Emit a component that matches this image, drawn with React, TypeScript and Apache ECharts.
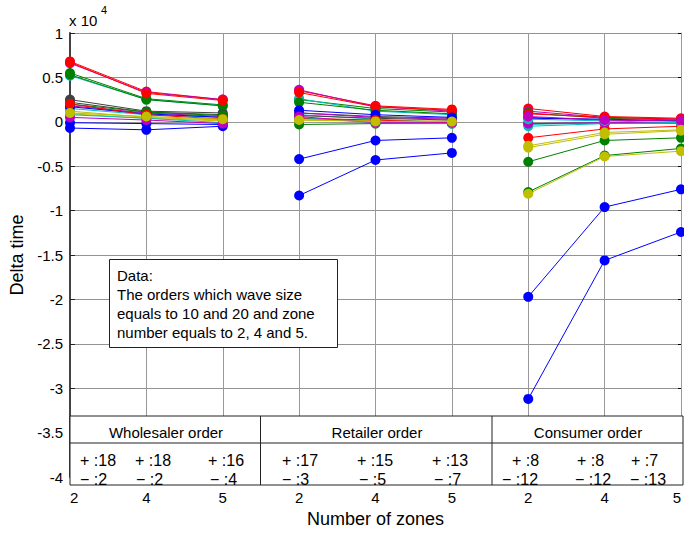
import React, { useEffect, useRef } from "react";
import * as echarts from "echarts";

// Zone numbers shown under each group of points (x = 1..9)
const zoneLabels = ["2", "4", "5", "2", "4", "5", "2", "4", "5"];
const orderTypes = ["Wholesaler order", "Retailer order", "Consumer order"];

// Delta time (x 10^4) per order for zone numbers 2, 4, 5
const wholesaler: number[][] = [
  [-0.07, -0.09, -0.05],
  [0.55, 0.26, 0.19],
  [0.68, 0.34, 0.25],
  [0.52, 0.25, 0.18],
  [0.66, 0.33, 0.25],
  [0.12, 0.05, 0.02],
  [0.25, 0.12, 0.1],
  [-0.01, -0.02, -0.03],
  [0.53, 0.25, 0.18],
  [0.67, 0.32, 0.24],
  [0.15, 0.08, 0.05],
  [0.18, 0.1, 0.06],
  [0.09, 0.04, 0.01],
  [0.22, 0.11, 0.08],
  [0.17, 0.09, 0.05],
  [0.2, 0.11, 0.07],
  [0.2, 0.08, 0.03],
  [0.08, 0.04, -0.01],
  [0.05, 0.02, -0.02],
  [0.1, 0.06, 0.03],
];

const retailer: number[][] = [
  [-0.83, -0.43, -0.35],
  [0.25, 0.15, 0.11],
  [0.35, 0.18, 0.14],
  [0.26, 0.12, 0.08],
  [0.36, 0.17, 0.12],
  [0.03, 0.01, 0.01],
  [0.1, 0.06, 0.04],
  [-0.42, -0.21, -0.18],
  [0.22, 0.13, 0.09],
  [0.33, 0.17, 0.13],
  [0.08, 0.03, -0.01],
  [0.1, 0.05, 0.03],
  [0.02, 0.01, 0.005],
  [0.07, 0.04, 0.02],
  [0.13, 0.08, 0.05],
  [-0.03, -0.02, -0.02],
  [0.04, 0.02, -0.01],
  [0.05, -0.01, -0.02],
  [0.06, -0.01, -0.01],
  [0.02, 0.005, 0.003],
];

const consumer: number[][] = [
  [-3.12, -1.56, -1.24],
  [-0.79, -0.38, -0.3],
  [0.15, 0.06, 0.04],
  [-0.05, -0.02, -0.01],
  [0.12, 0.05, 0.03],
  [-0.81, -0.39, -0.33],
  [-0.02, -0.01, -0.01],
  [-1.97, -0.96, -0.76],
  [-0.45, -0.21, -0.18],
  [-0.18, -0.08, -0.05],
  [-0.03, -0.01, -0.02],
  [-0.02, -0.01, -0.01],
  [-0.29, -0.14, -0.1],
  [0.05, 0.02, 0.01],
  [0.04, 0.03, 0.01],
  [0.1, 0.04, 0.02],
  [0.09, 0.05, 0.03],
  [0.03, 0.01, -0.01],
  [0.06, 0.02, 0.01],
  [-0.27, -0.12, -0.09],
];

// Count of positive / negative deltas per zone column
const plusCounts = [18, 18, 16, 17, 15, 13, 8, 8, 7];
const minusCounts = [2, 2, 4, 3, 5, 7, 12, 12, 13];

const colorOrder = ["#0000ff", "#008000", "#ff0000", "#00bfbf", "#bf00bf", "#bfbf00", "#404040"];

const FONT = "'Liberation Sans', Arial, sans-serif";

// Pixel layout of the plot frame and the count table
const G_LEFT = 70;
const G_TOP = 33;
const G_RIGHT = 683;
const G_BOTTOM = 485;
const TABLE_TOP = 416;
const TABLE_MID = 443;
const TABLE_DIVIDERS = [260.5, 492];
const HEADER_X = [166, 377, 588];
const PLUS_X = [80, 135, 208, 282, 357, 432, 512, 577, 631];
const MINUS_X = [80, 136, 210, 282, 359, 434, 502, 575, 630];

export default function App() {
  const ref = useRef<HTMLDivElement>(null);

  useEffect(() => {
    if (!ref.current) return;
    const chart = echarts.init(ref.current, undefined, { renderer: "svg" });

    const groups = [wholesaler, retailer, consumer];
    const series: any[] = [];
    groups.forEach((rows, g) => {
      rows.forEach((vals, i) => {
        const color = colorOrder[i % colorOrder.length];
        series.push({
          type: "line",
          data: vals.map((v, k) => [g * 3 + k + 1, v]),
          symbol: "circle",
          symbolSize: 10,
          showSymbol: true,
          lineStyle: { color, width: 1 },
          itemStyle: { color },
          emphasis: { disabled: true },
          silent: true,
        });
      });
    });

    const graphics: any[] = [
      // x 10^4 exponent note
      { type: "text", x: 69, y: 20, style: { text: "x 10", font: `15px ${FONT}`, fill: "#000", verticalAlign: "middle" } },
      { type: "text", x: 101, y: 10, style: { text: "4", font: `11px ${FONT}`, fill: "#000", verticalAlign: "middle" } },
      // note box
      {
        type: "rect",
        z: 50,
        shape: { x: 109.5, y: 259.5, width: 228, height: 88 },
        style: { fill: "#fff", stroke: "#222", lineWidth: 1 },
      },
      {
        type: "text",
        z: 51,
        x: 117,
        y: 266,
        style: {
          text: "Data:\nThe orders which wave size\nequals to 10 and 20 and zone\nnumber equals to 2, 4 and 5.",
          font: `15px ${FONT}`,
          lineHeight: 19,
          fill: "#000",
        },
      },
      // count table
      {
        type: "rect",
        z: 50,
        shape: { x: G_LEFT, y: TABLE_TOP, width: G_RIGHT - G_LEFT, height: G_BOTTOM - TABLE_TOP },
        style: { fill: "#fff", stroke: "#222", lineWidth: 1 },
      },
      {
        type: "line",
        z: 51,
        shape: { x1: G_LEFT, y1: TABLE_MID, x2: G_RIGHT, y2: TABLE_MID },
        style: { stroke: "#222", lineWidth: 1 },
      },
      ...TABLE_DIVIDERS.map((x) => ({
        type: "line",
        z: 51,
        shape: { x1: x, y1: TABLE_TOP, x2: x, y2: G_BOTTOM },
        style: { stroke: "#222", lineWidth: 1 },
      })),
      ...orderTypes.map((t, i) => ({
        type: "text",
        z: 52,
        x: HEADER_X[i],
        y: 432,
        style: { text: t, font: `15px ${FONT}`, fill: "#000", align: "center", verticalAlign: "middle" },
      })),
      ...plusCounts.map((c, i) => ({
        type: "text",
        z: 52,
        x: PLUS_X[i],
        y: 460,
        style: { text: `+ :${c}`, font: `16px ${FONT}`, fill: "#000", verticalAlign: "middle" },
      })),
      ...minusCounts.map((c, i) => ({
        type: "text",
        z: 52,
        x: MINUS_X[i],
        y: 479,
        style: { text: `\u2212 :${c}`, font: `16px ${FONT}`, fill: "#000", verticalAlign: "middle" },
      })),
    ];

    chart.setOption({
      animation: false,
      backgroundColor: "#fff",
      textStyle: { fontFamily: FONT },
      grid: {
        left: G_LEFT,
        top: G_TOP,
        width: G_RIGHT - G_LEFT,
        height: G_BOTTOM - G_TOP,
        containLabel: false,
      },
      xAxis: [
        {
          type: "value",
          min: 1,
          max: 9,
          interval: 1,
          name: "Number of zones",
          nameLocation: "middle",
          nameGap: 28,
          nameTextStyle: { fontSize: 18, color: "#000", fontFamily: FONT },
          axisLine: { show: true, lineStyle: { color: "#222", width: 1 } },
          axisTick: { show: false },
          axisLabel: {
            color: "#000",
            fontSize: 15,
            margin: 13,
            fontFamily: FONT,
            alignMinLabel: "left",
            alignMaxLabel: "right",
            formatter: (v: number) => zoneLabels[Math.round(v) - 1] ?? "",
          },
          splitLine: { show: true, lineStyle: { color: "#999", width: 1 } },
        },
        {
          type: "value",
          position: "top",
          min: 1,
          max: 9,
          interval: 1,
          axisLine: { show: true, lineStyle: { color: "#999", width: 1 } },
          axisTick: { show: true, inside: true, length: 3, lineStyle: { color: "#000", width: 2 } },
          axisLabel: { show: false },
          splitLine: { show: false },
        },
      ],
      yAxis: [
        {
          type: "value",
          min: -4,
          max: 1,
          interval: 0.5,
          name: "Delta time",
          nameLocation: "middle",
          nameGap: 41,
          nameTextStyle: { fontSize: 18, color: "#000", fontFamily: FONT },
          axisLine: { show: true, lineStyle: { color: "#444", width: 2 } },
          axisTick: { show: true, inside: true, length: 5, lineStyle: { color: "#222", width: 1 } },
          axisLabel: { color: "#000", fontSize: 15, margin: 7, fontFamily: FONT },
          splitLine: { show: true, lineStyle: { color: "#939393", width: 1 } },
        },
        {
          type: "value",
          position: "right",
          min: -4,
          max: 1,
          interval: 0.5,
          axisLine: { show: true, lineStyle: { color: "#999", width: 1 } },
          axisTick: { show: true, inside: true, length: 3, lineStyle: { color: "#000", width: 1 } },
          axisLabel: { show: false },
          splitLine: { show: false },
        },
      ],
      series,
      graphic: graphics,
    });

    return () => chart.dispose();
  }, []);

  return (
    <div
      ref={ref}
      style={{ position: "absolute", left: 0, top: 0, width: 684, height: 533, background: "#fff" }}
    />
  );
}
